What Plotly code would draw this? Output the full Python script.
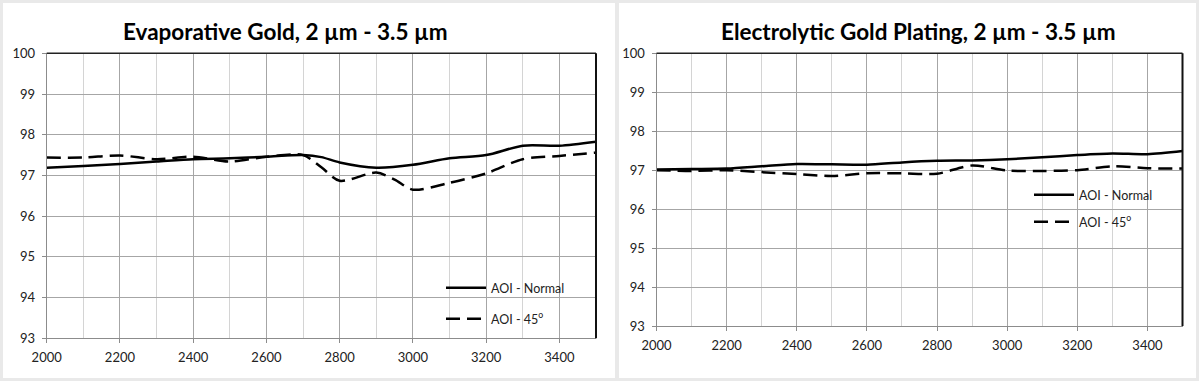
import plotly.graph_objects as go

W, H = 1199, 381

# ---- data ----
wl_evap = [2000, 2100, 2200, 2300, 2400, 2500, 2600, 2700, 2750, 2800, 2900, 3000, 3100, 3200, 3300, 3400, 3500]
evap_normal = [97.19, 97.23, 97.28, 97.34, 97.40, 97.42, 97.46, 97.50, 97.45, 97.32, 97.19, 97.26, 97.42, 97.50, 97.73, 97.73, 97.83]

wl_evap45 = [2000, 2100, 2200, 2300, 2400, 2500, 2600, 2700, 2750, 2800, 2900, 2950, 3000, 3100, 3200, 3300, 3400, 3500]
evap_45 = [97.44, 97.44, 97.49, 97.40, 97.46, 97.34, 97.46, 97.50, 97.20, 96.87, 97.07, 96.90, 96.65, 96.82, 97.05, 97.40, 97.48, 97.56]

wl_elec = [2000, 2100, 2200, 2300, 2400, 2500, 2600, 2700, 2800, 2900, 3000, 3100, 3200, 3300, 3400, 3500]
elec_normal = [97.02, 97.03, 97.04, 97.10, 97.16, 97.15, 97.14, 97.20, 97.24, 97.25, 97.28, 97.33, 97.39, 97.43, 97.41, 97.49]
elec_45 = [97.00, 96.98, 97.00, 96.95, 96.90, 96.85, 96.92, 96.92, 96.91, 97.12, 96.99, 96.98, 97.00, 97.10, 97.05, 97.04]

titles = ["Evaporative Gold, 2 µm - 3.5 µm", "Electrolytic Gold Plating, 2 µm - 3.5 µm"]
names = ["AOI - Normal", "AOI - 45<sup>o</sup>"]
x_ticks = [2000, 2200, 2400, 2600, 2800, 3000, 3200, 3400]
y_ticks = [93, 94, 95, 96, 97, 98, 99, 100]

def px_x(p):
    return p / W

def px_y(p):
    return 1 - p / H

FONT = "Lato"
fig = go.Figure()

dash45 = "14px,7px"
fig.add_trace(go.Scatter(x=wl_evap, y=evap_normal, mode="lines", name=names[0], showlegend=True,
                         line=dict(color="black", width=2.5, shape="spline", smoothing=0.8),
                         xaxis="x", yaxis="y", legend="legend"))
fig.add_trace(go.Scatter(x=wl_evap45, y=evap_45, mode="lines", name=names[1], showlegend=True,
                         line=dict(color="black", width=2.5, dash=dash45, shape="spline", smoothing=0.8),
                         xaxis="x", yaxis="y", legend="legend2"))
fig.add_trace(go.Scatter(x=wl_elec, y=elec_normal, mode="lines", name=names[0], showlegend=True,
                         line=dict(color="black", width=2.5, shape="spline", smoothing=0.8),
                         xaxis="x2", yaxis="y2", legend="legend3"))
fig.add_trace(go.Scatter(x=wl_elec, y=elec_45, mode="lines", name=names[1], showlegend=True,
                         line=dict(color="black", width=2.5, dash=dash45, shape="spline", smoothing=0.8),
                         xaxis="x2", yaxis="y2", legend="legend4"))

axis_common_x = dict(range=[2000, 3500], tickvals=x_ticks, showgrid=True, gridcolor="#a6a6a6", gridwidth=1,
                     minor=dict(dtick=100, tick0=2000, showgrid=True, gridcolor="#d4d4d4", gridwidth=1),
                     showline=True, linecolor="#8c8c8c", linewidth=1, ticks="outside", ticklen=4,
                     tickcolor="#8c8c8c", tickfont=dict(family=FONT, size=13, color="#222"),
                     ticklabelstandoff=3,
                     zeroline=False, fixedrange=True, automargin=False)
axis_common_y = dict(range=[93, 100], tickvals=y_ticks, showgrid=True, gridcolor="#a6a6a6", gridwidth=1,
                     showline=True, linecolor="#8c8c8c", linewidth=1, ticks="outside", ticklen=4,
                     tickcolor="#8c8c8c", tickfont=dict(family=FONT, size=13, color="#222"),
                     ticklabelstandoff=4,
                     zeroline=False, fixedrange=True, automargin=False)

# pixel geometry
L1 = (46.7, 596.0, 53.3, 338.3)
L2 = (656.5, 1182.5, 53.3, 326.0)

fig.update_layout(
    width=W, height=H, margin=dict(l=0, r=0, t=0, b=0, autoexpand=False),
    paper_bgcolor="#e9e9e9", plot_bgcolor="white", showlegend=True,
    xaxis=dict(domain=[px_x(L1[0]), px_x(L1[1])], anchor="y", **axis_common_x),
    yaxis=dict(domain=[px_y(L1[3]), px_y(L1[2])], anchor="x", **axis_common_y),
    xaxis2=dict(domain=[px_x(L2[0]), px_x(L2[1])], anchor="y2", **axis_common_x),
    yaxis2=dict(domain=[px_y(L2[3]), px_y(L2[2])], anchor="x2", **axis_common_y),
    font=dict(family=FONT, color="#222"),
)

leg_common = dict(bgcolor="rgba(0,0,0,0)", borderwidth=0, font=dict(family=FONT, size=12.5, color="#222"),
                  xanchor="left", yanchor="middle", itemwidth=40, visible=True)
fig.update_layout(
    legend=dict(x=px_x(441), y=px_y(288), **leg_common),
    legend2=dict(x=px_x(441), y=px_y(319), **leg_common),
    legend3=dict(x=px_x(1029), y=px_y(195), **leg_common),
    legend4=dict(x=px_x(1029), y=px_y(222), **leg_common),
)

# white panels
shapes = [
    dict(type="rect", xref="paper", yref="paper", x0=px_x(3), x1=px_x(615), y0=px_y(378), y1=px_y(3),
         fillcolor="white", line=dict(width=0), layer="below"),
    dict(type="rect", xref="paper", yref="paper", x0=px_x(619), x1=px_x(1196), y0=px_y(378), y1=px_y(3),
         fillcolor="white", line=dict(width=0), layer="below"),
]
for xr, yr in [("x domain", "y domain"), ("x2 domain", "y2 domain")]:
    shapes.append(dict(type="line", xref=xr, yref=yr, x0=0, x1=1, y0=1, y1=1, line=dict(color="#222", width=1.5)))
    shapes.append(dict(type="line", xref=xr, yref=yr, x0=1, x1=1, y0=0, y1=1, line=dict(color="#111", width=2)))
fig.update_layout(shapes=shapes)

fig.add_annotation(text="<b>%s</b>" % titles[0], xref="paper", yref="paper", x=px_x(285), y=px_y(31),
                   showarrow=False, xanchor="center", yanchor="middle", font=dict(family=FONT, size=22.5, color="black"))
fig.add_annotation(text="<b>%s</b>" % titles[1], xref="paper", yref="paper", x=px_x(918), y=px_y(31),
                   showarrow=False, xanchor="center", yanchor="middle", font=dict(family=FONT, size=22.5, color="black"))

fig.write_html("out.html", config={"displayModeBar": False, "staticPlot": True},
               post_script="document.body.style.margin='0';document.body.style.overflow='hidden';")
